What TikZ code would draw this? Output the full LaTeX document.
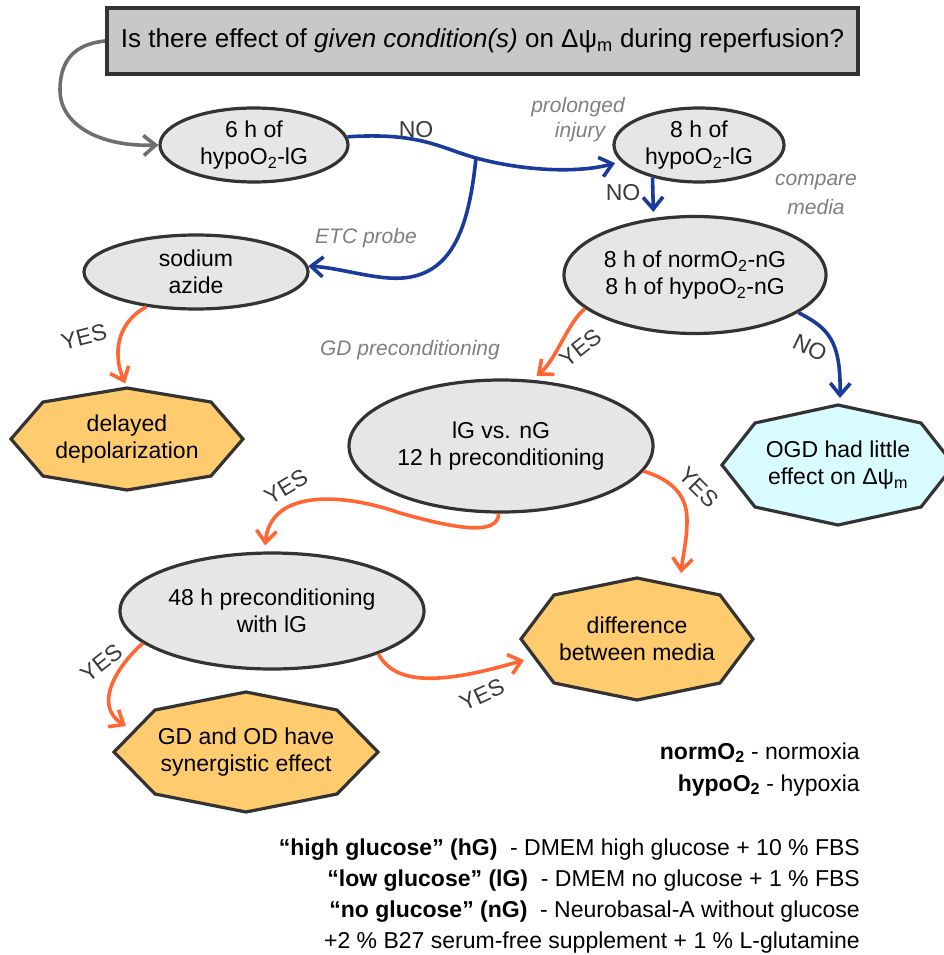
\documentclass[tikz,border=0pt]{standalone}
\usepackage{fontspec}
\setmainfont{Liberation Sans}
\usetikzlibrary{arrows.meta,shapes.geometric,calc}
\definecolor{ellfill}{HTML}{E6E6E6}
\definecolor{boxfill}{HTML}{C8C8C8}
\definecolor{edgecol}{HTML}{333333}
\definecolor{bluearr}{HTML}{1A3A9C}
\definecolor{orangearr}{HTML}{FF6633}
\definecolor{grayarr}{HTML}{6E6E6E}
\definecolor{octorange}{HTML}{FECB6E}
\definecolor{octcyan}{HTML}{D8FCFF}
\definecolor{notegray}{HTML}{7F7F7F}
\definecolor{labgray}{HTML}{3A3A3A}
\newcommand{\octpoly}[7]{%
  \draw[octstyle, fill=#7, shift={(#1,#2)}] (0,-#4) -- (#5,-#6) -- (#3,0) -- (#5,#6) -- (0,#4) -- (-#5,#6) -- (-#3,0) -- (-#5,-#6) -- cycle;}
\begin{document}
\begin{tikzpicture}[x=1pt,y=-1pt,
  ellshape/.style={ellipse, draw=edgecol, line width=3.2pt, fill=ellfill, inner sep=0pt},
  etext/.style={align=center, inner sep=0pt, font=\fontsize{23}{27}\selectfont, text=black},
  octstyle/.style={draw=edgecol, line width=3.2pt},
  titlebox/.style={rectangle, draw=edgecol, line width=4pt, fill=boxfill, inner sep=0pt, font=\fontsize{26}{30}\selectfont, text=black},
  arr/.style={line width=3.6pt, -{Straight Barb[length=12pt,width=20pt]}},
  lab/.style={font=\fontsize{23}{27}\selectfont, text=labgray, inner sep=0pt},
  note/.style={font=\fontsize{21}{25}\selectfont\itshape, text=notegray, inner sep=0pt},
  legend/.style={font=\fontsize{23}{27}\selectfont, text=black, inner sep=0pt}
]
\useasboundingbox (0,0) rectangle (944,955);
\clip (0,0) rectangle (944,955);

% title
\node[titlebox, minimum width=751pt, minimum height=66pt] (title) at (482.5,41)
  {Is there effect of \textit{given condition(s)} on Δψ\textsubscript{m} during reperfusion?};

% ellipses
\node[ellshape, minimum width=188pt, minimum height=74pt] (e6) at (254,145) {};
\node[etext] (e6t) at (e6) {6 h of\\hypoO\textsubscript{2}-lG};
\node[ellshape, minimum width=170pt, minimum height=74pt] (e8) at (699,145) {};
\node[etext] (e8t) at (e8) {8 h of\\hypoO\textsubscript{2}-lG};
\node[ellshape, minimum width=224pt, minimum height=74pt] (sod) at (196,272) {};
\node[etext] (sodt) at (sod) {sodium\\azide};
\node[ellshape, minimum width=262pt, minimum height=117pt] (nn) at (695,275) {};
\node[etext] (nnt) at (nn) {8 h of normO\textsubscript{2}-nG\\8 h of hypoO\textsubscript{2}-nG};
\node[ellshape, minimum width=304pt, minimum height=132pt] (lg) at (501,446) {};
\node[etext] (lgt) at (lg) {lG vs. nG\\12 h preconditioning};
\node[ellshape, minimum width=304pt, minimum height=116pt] (h48) at (272,611) {};
\node[etext] (h48t) at (h48) {48 h preconditioning\\with lG};

% octagons
\octpoly{127}{439}{116}{51}{84}{37}{octorange}
\node[etext] (del) at (127,439) {delayed\\depolarization};
\octpoly{838}{465}{116}{60}{83}{42}{octcyan}
\node[etext] (ogd) at (838,465) {OGD had little\\effect on Δψ\textsubscript{m}};
\octpoly{637}{639}{116}{61}{83}{44}{octorange}
\node[etext] (diff) at (637,639) {difference\\between media};
\octpoly{246}{752}{132}{60}{91}{42}{octorange}
\node[etext] (gd) at (246,752) {GD and OD have\\synergistic effect};

% helper coordinates
\coordinate (gc) at (60,90);
\coordinate (j) at (476,158);
\coordinate (bk) at (415,276);
\coordinate (om) at (400,513);
\coordinate (od) at (687,520);

% connectors
\draw[arr, grayarr] (title.west) .. controls (75,44) and (60,60) .. (gc)
  .. controls (60,125) and (100,147) .. (e6.west);
\draw[arr, bluearr, shorten >=6pt] (e6.5) .. controls (420,132) and (440,148) .. (j)
  .. controls (520,170) and (575,174) .. (e8.192);
\draw[arr, bluearr] (j) .. controls (470,215) and (458,265) .. (bk)
  .. controls (385,284) and (345,268) .. (sod.3);
\draw[arr, bluearr, shorten >=6pt] (e8.215) -- (nn.126);
\draw[arr, orangearr, shorten >=5pt] (sod.215) .. controls (118,322) and (112,352) .. ($(del.center)+(0,-51)$);
\draw[arr, orangearr, shorten >=6pt] (nn.197) .. controls (568,322) and (556,360) .. (lg.65);
\draw[arr, bluearr] (nn.340) .. controls (828,328) and (841,340) .. ($(ogd.center)+(2,-67)$);
\draw[arr, orangearr, shorten >=6pt] (lg.268) .. controls (498,535) and (460,530) .. (om)
  .. controls (340,492) and (270,490) .. (h48.97);
\draw[arr, orangearr] (lg.350) .. controls (672,480) and (687,495) .. (od)
  .. controls (687,540) and (683,555) .. ($(diff.center)+(44,-66)$);
\draw[arr, orangearr] (h48.338) .. controls (395,685) and (440,685) .. ($(diff.center)+(-113,21)$);
\draw[arr, orangearr] (h48.194) .. controls (118,665) and (92,705) .. ($(gd.center)+(-120,-26)$);

% labels
\node[lab] (no1) at (416,130) {NO};
\node[note] (prol) at (578,107) {prolonged};
\node[note] (inj) at (580,132) {injury};
\node[note] (etc) at (366,238) {ETC probe};
\node[lab] (no2) at (623,193) {NO};
\node[note] (comp) at (816,182) {compare};
\node[note] (med) at (816,207) {media};
\node[lab, rotate=14] (yes1) at (84,337) {YES};
\node[note] (gdp) at (410,350) {GD preconditioning};
\node[lab, rotate=38] (yes2) at (581,348) {YES};
\node[lab, rotate=-26] (no3) at (810,348) {NO};
\node[lab, rotate=31] (yes3) at (286,487) {YES};
\node[lab, rotate=-45] (yes4) at (699,487) {YES};
\node[lab, rotate=25] (yes5) at (482,695) {YES};
\node[lab, rotate=38] (yes6) at (102,663) {YES};

% legend
\node[legend, anchor=base east] (l1) at (860,759) {\textbf{normO\textsubscript{2}} - normoxia};
\node[legend, anchor=base east] (l2) at (860,791) {\textbf{hypoO\textsubscript{2}} - hypoxia};
\node[legend, anchor=base east] (l3) at (860,855) {\textbf{“high glucose” (hG)}\ \ - DMEM high glucose + 10 \% FBS};
\node[legend, anchor=base east] (l4) at (860,886) {\textbf{“low glucose” (lG)}\ \ - DMEM no glucose + 1 \% FBS};
\node[legend, anchor=base east] (l5) at (860,917) {\textbf{“no glucose” (nG)}\ \ - Neurobasal-A without glucose};
\node[legend, anchor=base east] (l6) at (860,948) {+2 \% B27 serum-free supplement + 1 \% L-glutamine};
\end{tikzpicture}
\end{document}
